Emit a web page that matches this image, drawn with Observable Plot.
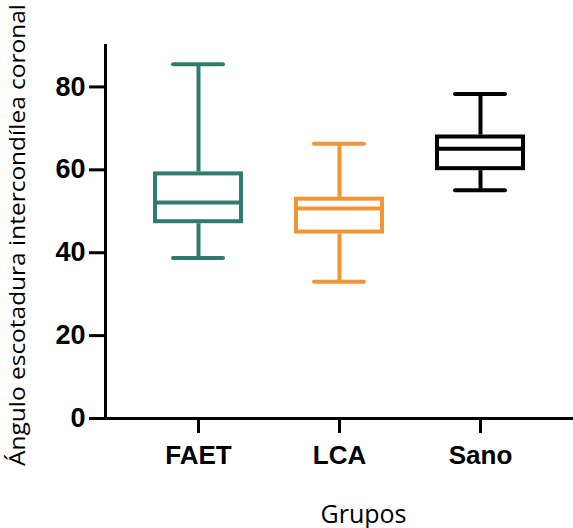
<!DOCTYPE html>
<html>
<head>
<meta charset="utf-8">
<script src="https://cdn.jsdelivr.net/npm/d3@7"></script>
<script src="https://cdn.jsdelivr.net/npm/@observablehq/plot@0.6"></script>
<style>
  html, body { margin: 0; padding: 0; background: #fff; }
</style>
</head>
<body>
<div id="chart"></div>
<script>
const groups = ["FAET", "LCA", "Sano"];
const minVals = [38.7, 33.0, 55.1];
const q1Vals = [47.0, 44.5, 59.8];
const medianVals = [52.1, 50.7, 65.1];
const q3Vals = [59.5, 53.4, 68.4];
const maxVals = [85.5, 66.3, 78.3];
const colors = ["#2f7c6f", "#f39436", "#000000"];
const yTicks = [0, 20, 40, 60, 80];
const xTitle = "Grupos";
const yTitle = "Ángulo escotadura intercondílea coronal";

const rows = groups.map((g, i) => ({
  group: g, min: minVals[i], q1: q1Vals[i], median: medianVals[i],
  q3: q3Vals[i], max: maxVals[i], color: colors[i]
}));

const sw = 4;
const chart = Plot.plot({
  width: 573,
  height: 528,
  marginLeft: 105,
  marginRight: 0,
  marginTop: 45,
  marginBottom: 110,
  style: { background: "#fff" },
  x: { type: "band", domain: groups, paddingInner: 0.36, paddingOuter: 0.33 },
  y: { domain: [0, 90] },
  marks: [
    // whiskers
    Plot.ruleX(rows, { x: "group", y1: "min", y2: "q1", stroke: "color", strokeWidth: sw }),
    Plot.ruleX(rows, { x: "group", y1: "q3", y2: "max", stroke: "color", strokeWidth: sw }),
    // caps
    Plot.tickY(rows, { x: "group", y: "min", stroke: "color", strokeWidth: sw, insetLeft: 20, insetRight: 20, strokeLinecap: "round" }),
    Plot.tickY(rows, { x: "group", y: "max", stroke: "color", strokeWidth: sw, insetLeft: 20, insetRight: 20, strokeLinecap: "round" }),
    // boxes
    Plot.barY(rows, { x: "group", y1: "q1", y2: "q3", fill: "white", stroke: "color", strokeWidth: sw, inset: 2 }),
    // medians
    Plot.tickY(rows, { x: "group", y: "median", stroke: "color", strokeWidth: sw, insetLeft: 2, insetRight: 2 }),
    // axes lines
    Plot.frame({ anchor: "left", stroke: "#000", strokeWidth: 3 }),
    Plot.frame({ anchor: "bottom", stroke: "#000", strokeWidth: 3 }),
    Plot.axisY(yTicks, {
      tickSize: 16, tickPadding: 4, strokeWidth: 3, label: null,
      fontSize: 27, fontWeight: "bold", fontFamily: "Liberation Sans, Arial, sans-serif", fill: "#000"
    }),
    Plot.axisX({
      tickSize: 15, tickPadding: 12, strokeWidth: 3, label: null,
      fontSize: 26, fontWeight: "bold", fontFamily: "Liberation Sans, Arial, sans-serif", fill: "#000"
    }),
    Plot.text([xTitle], {
      frameAnchor: "bottom", dx: 24, dy: 104, text: d => d, textAnchor: "middle",
      fontSize: 25, fontFamily: "Open Sans, sans-serif", fill: "#000"
    }),
    Plot.text([yTitle], {
      frameAnchor: "left", dx: -88, dy: 3, rotate: -90, text: d => d, textAnchor: "middle",
      fontSize: 22, fontFamily: "Open Sans, sans-serif", fill: "#000",
      className: "ytitle"
    })
  ]
});
document.getElementById("chart").appendChild(chart);
d3.select(chart).selectAll(".ytitle text")
  .attr("textLength", 462)
  .attr("lengthAdjust", "spacingAndGlyphs");
</script>
</body>
</html>
